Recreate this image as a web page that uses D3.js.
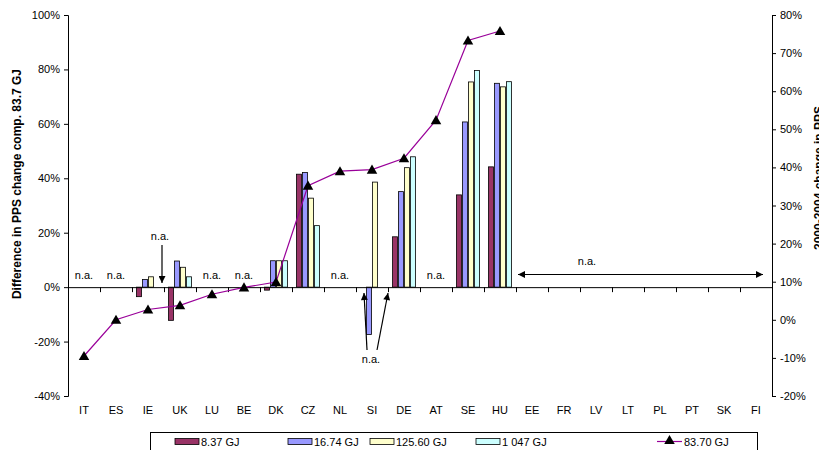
<!DOCTYPE html>
<html>
<head>
<meta charset="utf-8">
<script src="https://cdn.jsdelivr.net/npm/d3@7/dist/d3.min.js"></script>
<style>
  body { margin: 0; background: #fff; }
  svg { display: block; font-family: "Liberation Sans", Arial, sans-serif; }
  .tick text { font-size: 11px; fill: #000; }
</style>
</head>
<body>
<div id="chart"></div>
<script>
// chart data (null = n.a.)
var categories = ["IT", "ES", "IE", "UK", "LU", "BE", "DK", "CZ", "NL", "SI", "DE", "AT", "SE", "HU", "EE", "FR", "LV", "LT", "PL", "PT", "SK", "FI"];
var seriesNames = ["8.37 GJ", "16.74 GJ", "125.60 GJ", "1 047 GJ"];
var lineName = "83.70 GJ";
var gj837 = [null, null, -3.5, -12.2, null, null, -1.1, 41.5, null, null, 18.5, null, 33.9, 44.2, null, null, null, null, null, null, null, null];
var gj1674 = [null, null, 2.8, 9.6, null, null, 9.7, 42.1, null, -17.4, 35.1, null, 60.7, 74.9, null, null, null, null, null, null, null, null];
var gj12560 = [null, null, 3.8, 7.3, null, null, 9.7, 32.7, null, 38.6, 43.9, null, 75.4, 73.6, null, null, null, null, null, null, null, null];
var gj1047 = [null, null, null, 3.8, null, null, 9.7, 22.6, null, null, 47.9, null, 79.6, 75.5, null, null, null, null, null, null, null, null];
var gj8370 = [-9.5, 0, 2.7, 3.8, 6.7, 8.5, 9.9, 35.2, 39.0, 39.4, 42.4, 52.4, 73.3, 75.8, null, null, null, null, null, null, null, null];
var leftTicks = [-40, -20, 0, 20, 40, 60, 80, 100];
var rightTicks = [-20, -10, 0, 10, 20, 30, 40, 50, 60, 70, 80];
var naSingle = ["IT", "ES", "LU", "BE", "NL", "AT"];

var barValues = [gj837, gj1674, gj12560, gj1047];
var colors = ["#993366", "#9999ff", "#ffffcc", "#ccffff"];
var lineColor = "#990099";

var W = 819, H = 450;
var plotLeft = 68, plotRight = 772, plotTop = 15, plotBottom = 396;

var svg = d3.select("#chart").append("svg")
    .attr("width", W)
    .attr("height", H);

var x = d3.scaleBand().domain(categories).range([plotLeft, plotRight]).padding(0);
var xSub = d3.scaleBand().domain(d3.range(4)).range([4, x.bandwidth() - 4]).padding(0);
var y = d3.scaleLinear().domain([-40, 100]).range([plotBottom, plotTop]);
var y2 = d3.scaleLinear().domain([-20, 80]).range([plotBottom, plotTop]);

// bars
var rows = [];
barValues.forEach(function (arr, s) {
    arr.forEach(function (v, i) {
        if (v !== null) rows.push({ s: s, cat: categories[i], v: v });
    });
});
svg.append("g").selectAll("rect")
    .data(rows)
    .enter().append("rect")
    .attr("x", function (d) { return x(d.cat) + xSub(d.s) + 0.5; })
    .attr("y", function (d) { return Math.min(y(d.v), y(0)); })
    .attr("width", xSub.bandwidth() - 1)
    .attr("height", function (d) { return Math.abs(y(d.v) - y(0)); })
    .attr("fill", function (d) { return colors[d.s]; })
    .attr("stroke", "#000")
    .attr("stroke-width", 0.8);

// left axis
var yAxis = svg.append("g")
    .attr("transform", "translate(" + plotLeft + ",0)")
    .call(d3.axisLeft(y).tickValues(leftTicks).tickSize(4).tickPadding(4)
        .tickFormat(function (d) { return d + "%"; }));
yAxis.select(".domain").attr("stroke", "#000");

// right axis
var y2Axis = svg.append("g")
    .attr("transform", "translate(" + plotRight + ",0)")
    .call(d3.axisRight(y2).tickValues(rightTicks).tickSize(4).tickPadding(4)
        .tickFormat(function (d) { return d + "%"; }));
y2Axis.select(".domain").attr("stroke", "#000");

// x axis on the zero line, ticks at category borders
svg.append("line")
    .attr("x1", plotLeft).attr("x2", plotRight)
    .attr("y1", y(0) + 0.5).attr("y2", y(0) + 0.5)
    .attr("stroke", "#000");
svg.append("g").selectAll("line")
    .data(d3.range(categories.length + 1))
    .enter().append("line")
    .attr("x1", function (i) { return plotLeft + i * x.bandwidth() + 0.5; })
    .attr("x2", function (i) { return plotLeft + i * x.bandwidth() + 0.5; })
    .attr("y1", y(0)).attr("y2", y(0) + 5)
    .attr("stroke", "#000");
svg.append("g").selectAll("text")
    .data(categories)
    .enter().append("text")
    .text(function (d) { return d; })
    .attr("x", function (d) { return x(d) + x.bandwidth() / 2; })
    .attr("y", 414)
    .attr("text-anchor", "middle")
    .attr("font-size", 11);

// axis titles
svg.append("text")
    .text("Difference in PPS change comp. 83.7 GJ")
    .attr("transform", "translate(21,184) rotate(-90)")
    .attr("text-anchor", "middle")
    .attr("font-size", 12)
    .attr("font-weight", "bold");
svg.append("text")
    .text("2000-2004 change in PPS")
    .attr("transform", "translate(823,178) rotate(-90)")
    .attr("text-anchor", "middle")
    .attr("font-size", 12)
    .attr("font-weight", "bold");

// line series
var pts = [];
gj8370.forEach(function (v, i) {
    if (v !== null) pts.push({ cat: categories[i], v: v });
});
var line = d3.line()
    .x(function (d) { return x(d.cat) + x.bandwidth() / 2; })
    .y(function (d) { return y2(d.v); });
svg.append("path")
    .datum(pts)
    .attr("d", line)
    .attr("fill", "none")
    .attr("stroke", lineColor)
    .attr("stroke-width", 1.2);
var tri = d3.symbol().type(d3.symbolTriangle).size(48);
svg.append("g").selectAll("path")
    .data(pts)
    .enter().append("path")
    .attr("d", tri)
    .attr("transform", function (d) {
        return "translate(" + (x(d.cat) + x.bandwidth() / 2) + "," + (y2(d.v) + 1) + ")";
    })
    .attr("fill", "#000");

// n.a. annotations
var defs = svg.append("defs");
defs.append("marker")
    .attr("id", "head")
    .attr("viewBox", "0 0 10 10")
    .attr("refX", 10).attr("refY", 5)
    .attr("markerWidth", 8).attr("markerHeight", 7)
    .attr("markerUnits", "userSpaceOnUse")
    .attr("orient", "auto-start-reverse")
    .append("path")
    .attr("d", "M0,0L10,5L0,10z")
    .attr("fill", "#000");

svg.append("g").selectAll("text")
    .data(naSingle)
    .enter().append("text")
    .text("n.a.")
    .attr("x", function (d) { return x(d) + x.bandwidth() / 2; })
    .attr("y", 279)
    .attr("text-anchor", "middle")
    .attr("font-size", 11);

function arrow(x1, y1, x2, y2b, both) {
    var l = svg.append("line")
        .attr("x1", x1).attr("y1", y1).attr("x2", x2).attr("y2", y2b)
        .attr("stroke", "#000").attr("stroke-width", 1.2)
        .attr("marker-end", "url(#head)");
    if (both) l.attr("marker-start", "url(#head)");
}
function naText(tx, ty) {
    svg.append("text").text("n.a.")
        .attr("x", tx).attr("y", ty)
        .attr("text-anchor", "middle")
        .attr("font-size", 11);
}

// IE 1 047 GJ
naText(x("IE") + 28, 240);
arrow(x("IE") + 30, 245, x("IE") + 30, 283, false);
// SI two missing bars
naText(x("SI") + 15, 363);
arrow(x("SI") + 11, 350, x("SI") + 8, 293, false);
arrow(x("SI") + 21, 350, x("SI") + 32, 293, false);
// EE to FI
naText(x("LV") + 7, 265);
arrow(x("EE") + 2, 274.5, x("FI") + 23, 274.5, true);

// legend
var legend = svg.append("g");
legend.append("rect")
    .attr("x", 150.5).attr("y", 432.5)
    .attr("width", 607).attr("height", 30)
    .attr("fill", "#fff").attr("stroke", "#000");
var legendX = [175, 288, 370, 476];
seriesNames.forEach(function (name, i) {
    legend.append("rect")
        .attr("x", legendX[i]).attr("y", 438.5)
        .attr("width", 24).attr("height", 6)
        .attr("fill", colors[i]).attr("stroke", "#000").attr("stroke-width", 0.8);
    legend.append("text")
        .text(name)
        .attr("x", legendX[i] + 26).attr("y", 445.5)
        .attr("font-size", 11);
});
legend.append("line")
    .attr("x1", 657).attr("x2", 682)
    .attr("y1", 441.5).attr("y2", 441.5)
    .attr("stroke", lineColor).attr("stroke-width", 1.2);
legend.append("path")
    .attr("d", tri)
    .attr("transform", "translate(669.5,441)")
    .attr("fill", "#000");
legend.append("text")
    .text(lineName)
    .attr("x", 684).attr("y", 445.5)
    .attr("font-size", 11);
</script>
</body>
</html>
